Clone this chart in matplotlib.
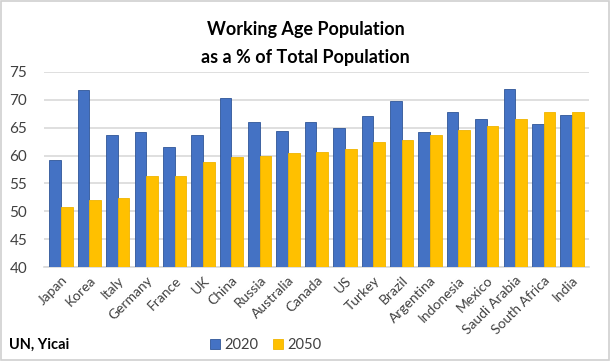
import matplotlib.pyplot as plt
import numpy as np
from matplotlib.patches import Rectangle

plt.rcParams['font.family'] = ['Lato', 'DejaVu Sans']

countries = ["Japan", "Korea", "Italy", "Germany", "France", "UK", "China", "Russia",
             "Australia", "Canada", "US", "Turkey", "Brazil", "Argentina", "Indonesia",
             "Mexico", "Saudi Arabia", "South Africa", "India"]
pop_2020 = [59.2, 71.7, 63.6, 64.3, 61.6, 63.6, 70.3, 66.0, 64.4, 66.0, 65.0, 67.0,
            69.7, 64.2, 67.8, 66.5, 71.9, 65.7, 67.3]
pop_2050 = [50.7, 52.0, 52.4, 56.3, 56.3, 58.9, 59.8, 59.9, 60.4, 60.6, 61.1, 62.4,
            62.8, 63.6, 64.6, 65.3, 66.5, 67.8, 67.8]

fig = plt.figure(figsize=(6.11, 3.61), dpi=100)
fig.patches.append(Rectangle((0.002, 0.003), 0.995, 0.993, transform=fig.transFigure,
                             fill=False, edgecolor='#D0D0D0', linewidth=1.2))
ax = fig.add_axes([0.072, 0.26, 0.892, 0.541])

x = np.arange(len(countries))
w = 0.41
ax.bar(x - w / 2, pop_2020, w, color='#4472C4', edgecolor='#2F5597', linewidth=0.6,
       label='2020', zorder=3)
ax.bar(x + w / 2, pop_2050, w, color='#FFC000', edgecolor='#F0B400', linewidth=0.6,
       label='2050', zorder=3)

ax.set_ylim(40, 75)
ax.set_yticks(range(40, 76, 5))
ax.set_xlim(-0.6, len(countries) - 0.4)
ax.set_xticks(x)
ax.set_xticklabels(countries, rotation=45, ha='right', rotation_mode='anchor')
ax.tick_params(axis='both', length=0, labelsize=10, colors='#404040')
ax.tick_params(axis='y', labelsize=11, pad=12)
ax.tick_params(axis='x', pad=5)
ax.grid(axis='y', color='#D9D9D9', linewidth=1.2, zorder=0)
for s in ['top', 'right', 'left']:
    ax.spines[s].set_visible(False)
ax.spines['bottom'].set_color('#D9D9D9')
ax.spines['bottom'].set_linewidth(1.2)

fig.text(0.5, 0.88, "Working Age Population\nas a % of Total Population", ha='center',
         va='center', fontsize=13, fontweight='bold', linespacing=1.75)
fig.text(0.015, 0.045, "UN, Yicai", fontsize=10.5, fontweight='bold', va='center')
fig.legend(loc='center', bbox_to_anchor=(0.435, 0.045), ncol=2, frameon=False,
           fontsize=10.5, handlelength=0.7, handleheight=0.7, columnspacing=1.0,
           handletextpad=0.3, labelcolor='#404040')

fig.savefig('out.png', dpi=100)
